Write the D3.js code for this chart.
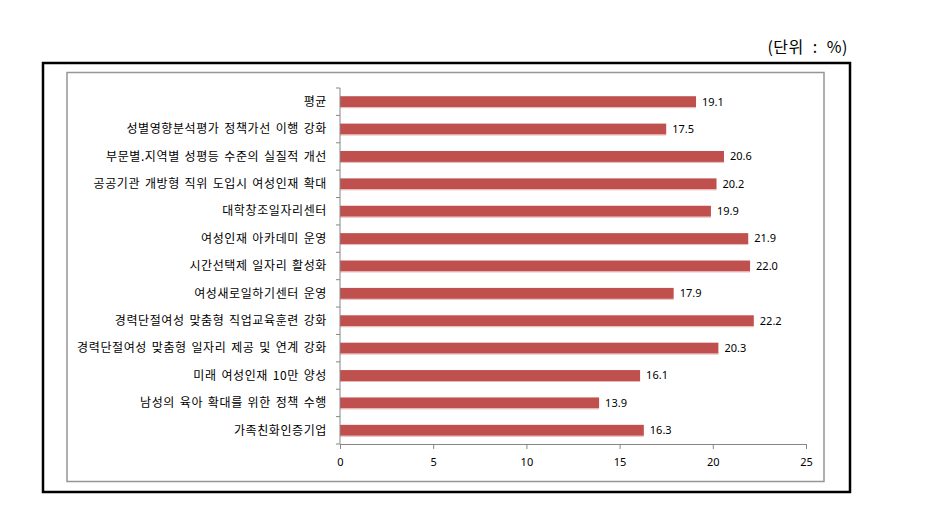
<!DOCTYPE html>
<html><head><meta charset="utf-8">
<script src="https://cdn.jsdelivr.net/npm/d3@7"></script>
<style>body{margin:0;background:#fff;}svg{display:block;}</style>
</head><body>
<svg id="c" width="940" height="505"></svg>
<script>
const categories = [
  "평균",
  "성별영향분석평가 정책가선 이행 강화",
  "부문별.지역별 성평등 수준의 실질적 개선",
  "공공기관 개방형 직위 도입시 여성인재 확대",
  "대학창조일자리센터",
  "여성인재 아카데미 운영",
  "시간선택제 일자리 활성화",
  "여성새로일하기센터 운영",
  "경력단절여성 맞춤형 직업교육훈련 강화",
  "경력단절여성 맞춤형 일자리 제공 및 연계 강화",
  "미래 여성인재 10만 양성",
  "남성의 육아 확대를 위한 정책 수행",
  "가족친화인증기업"
];
const values = [19.1, 17.5, 20.6, 20.2, 19.9, 21.9, 22.0, 17.9, 22.2, 20.3, 16.1, 13.9, 16.3];
const xTicks = [0, 5, 10, 15, 20, 25];
const unitLabel = "(단위 : %)";

const svg = d3.select("#c");
const korFont = "'Noto Sans CJK KR', sans-serif";
const numFont = "'Noto Sans', 'DejaVu Sans', sans-serif";

// unit label
svg.append("text").attr("x", 848).attr("y", 53).attr("text-anchor", "end")
  .attr("font-family", korFont).attr("font-size", 16).attr("word-spacing", 5)
  .attr("letter-spacing", 0.5).attr("fill", "#000").text(unitLabel);

// outer black frame
svg.append("rect").attr("x", 43).attr("y", 63).attr("width", 807).attr("height", 429)
  .attr("fill", "none").attr("stroke", "#000").attr("stroke-width", 2.5);
// inner chart area
svg.append("rect").attr("x", 67).attr("y", 72.5).attr("width", 757).attr("height", 409)
  .attr("fill", "#fff").attr("stroke", "#969696").attr("stroke-width", 1.5);

const pLeft = 340, pRight = 806, pTop = 88, pBottom = 444;
const x = d3.scaleLinear().domain([0, 25]).range([pLeft, pRight]);
const y = d3.scaleBand().domain(categories).range([pTop, pBottom]).paddingInner(0.6).paddingOuter(0.3);

// bars
const g = svg.append("g");
g.selectAll("rect.bar").data(values).enter().append("rect")
  .attr("class", "bar")
  .attr("x", x(0))
  .attr("y", (d, i) => y(categories[i]))
  .attr("width", d => x(d) - x(0))
  .attr("height", y.bandwidth())
  .attr("fill", "#C0504D");
g.selectAll("rect.sh").data(values).enter().append("rect")
  .attr("class", "sh")
  .attr("x", x(0))
  .attr("y", (d, i) => y(categories[i]) + y.bandwidth())
  .attr("width", d => x(d) - x(0))
  .attr("height", 1)
  .attr("fill", "#E6B9B8");

// value labels
g.selectAll("text.val").data(values).enter().append("text")
  .attr("class", "val")
  .attr("x", d => x(d) + 6)
  .attr("y", (d, i) => y(categories[i]) + y.bandwidth() / 2)
  .attr("dy", "0.35em")
  .attr("font-family", numFont).attr("font-size", 11).attr("fill", "#000")
  .text(d => d.toFixed(1));

// x axis
const xAxis = d3.axisBottom(x).tickValues(xTicks).tickSize(5).tickPadding(9).tickFormat(d3.format("d"));
const gx = svg.append("g").attr("transform", `translate(0,${pBottom})`).call(xAxis);
gx.select(".domain").attr("stroke", "#868686");
gx.selectAll(".tick line").attr("stroke", "#868686");
gx.selectAll(".tick text").attr("font-family", numFont).attr("font-size", 11).attr("fill", "#000");

// y axis: tick marks at category boundaries
const yAxisG = svg.append("g");
yAxisG.append("line").attr("x1", pLeft).attr("x2", pLeft).attr("y1", pTop).attr("y2", pBottom)
  .attr("stroke", "#868686");
const bounds = d3.range(categories.length + 1).map(i => pTop + i * (pBottom - pTop) / categories.length);
yAxisG.selectAll("line.t").data(bounds).enter().append("line").attr("class", "t")
  .attr("x1", pLeft - 4).attr("x2", pLeft).attr("y1", d => d).attr("y2", d => d)
  .attr("stroke", "#868686");
yAxisG.selectAll("text").data(categories).enter().append("text")
  .attr("x", pLeft - 13)
  .attr("y", d => y(d) + y.bandwidth() / 2)
  .attr("dy", "0.35em")
  .attr("text-anchor", "end")
  .attr("font-family", korFont).attr("font-size", 12)
  .attr("letter-spacing", 0.6).attr("word-spacing", 1.5)
  .attr("fill", "#000")
  .text(d => d);
</script>
</body></html>
